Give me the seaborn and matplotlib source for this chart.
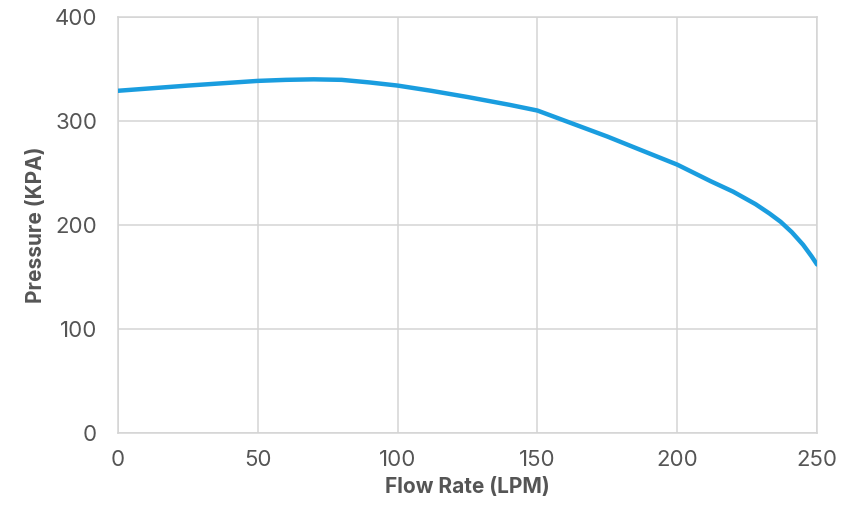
import pandas as pd
import seaborn as sns
import matplotlib.pyplot as plt

# Pump curve values
flow_lpm = [0, 25, 50, 60, 70, 80, 90, 100, 112, 125, 140, 150, 162, 175, 187, 200,
            212, 220, 228, 233, 237, 241, 245, 248, 250]
pressure_kpa = [329, 334, 338.5, 339.5, 340, 339.5, 337, 334, 329, 323, 315.5, 310, 298, 285, 272, 258,
                242, 232, 220, 211, 203, 193, 181, 170, 162]

x_ticks = [0, 50, 100, 150, 200, 250]
y_ticks = [0, 100, 200, 300, 400]

df = pd.DataFrame({'Flow Rate (LPM)': flow_lpm, 'Pressure (KPA)': pressure_kpa})

sns.set_style('white')
plt.rcParams['font.family'] = ['Inter', 'DejaVu Sans']

fig = plt.figure(figsize=(8.41, 5.13), dpi=100)
ax = fig.add_axes([0.1403, 0.156, 0.8312, 0.811])

sns.lineplot(data=df, x='Flow Rate (LPM)', y='Pressure (KPA)', ax=ax,
             color='#1a9ddf', linewidth=3.2, zorder=3)

ax.set_xlim(0, 250)
ax.set_ylim(0, 400)
ax.set_xticks(x_ticks)
ax.set_yticks(y_ticks)
ax.grid(True, color='#d4d4d4', linewidth=1.1)
for s in ax.spines.values():
    s.set_color('#d4d4d4')
    s.set_linewidth(1.1)

ax.tick_params(axis='both', length=0, labelsize=16, labelcolor='#555555')
ax.tick_params(axis='y', pad=15)
ax.tick_params(axis='x', pad=12)
ax.set_xlabel('Flow Rate (LPM)', fontsize=15, fontweight='bold', color='#555555', labelpad=5)
ax.set_ylabel('Pressure (KPA)', fontsize=15, fontweight='bold', color='#555555', labelpad=6)

fig.savefig('out.png', dpi=100)
